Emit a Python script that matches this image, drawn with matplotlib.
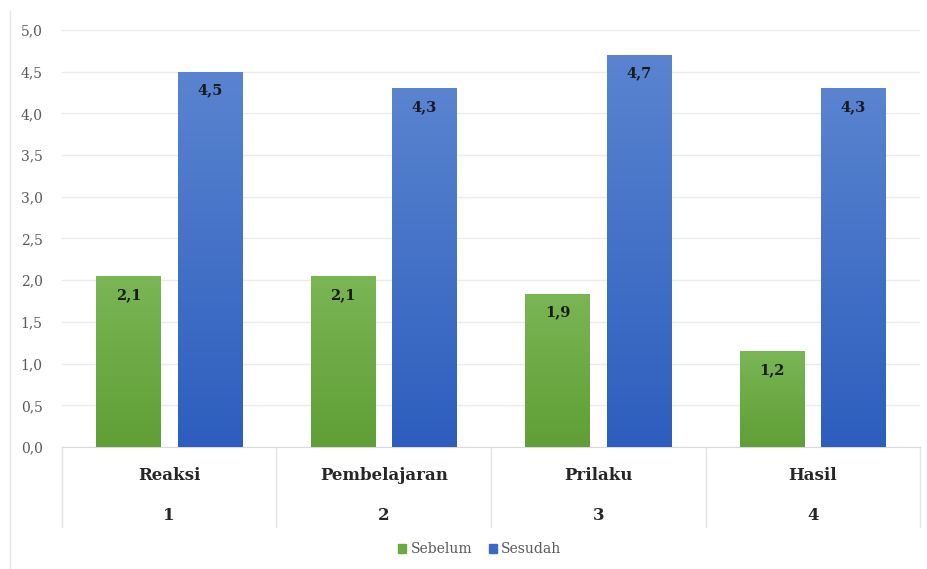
import numpy as np
import matplotlib.pyplot as plt
from matplotlib.patches import Patch
from matplotlib.lines import Line2D

# data
categories = ["Reaksi", "Pembelajaran", "Prilaku", "Hasil"]
numbers = ["1", "2", "3", "4"]
sebelum = [2.05, 2.05, 1.84, 1.15]
sesudah = [4.5, 4.3, 4.7, 4.3]
sebelum_labels = ["2,1", "2,1", "1,9", "1,2"]
sesudah_labels = ["4,5", "4,3", "4,7", "4,3"]
yticks = [0.0, 0.5, 1.0, 1.5, 2.0, 2.5, 3.0, 3.5, 4.0, 4.5, 5.0]

plt.rcParams['font.family'] = ['DejaVu Serif']

fig = plt.figure(figsize=(9.28, 5.69), dpi=100)
ax = fig.add_axes([0.0668, 0.2144, 0.9246, 0.7329])

x = np.arange(len(categories))
w = 0.30
off = 0.19

green_top, green_bot = "#7ab654", "#609e36"
blue_top, blue_bot = "#5a84d0", "#2d5ebe"


def gradient_bars(xs, vals, c_top, c_bot):
    bars = ax.bar(xs, vals, w, color=c_bot, edgecolor="none", zorder=2)
    top = np.array(plt.matplotlib.colors.to_rgb(c_top))
    bot = np.array(plt.matplotlib.colors.to_rgb(c_bot))
    grad = np.linspace(0, 1, 256)[:, None]
    img = (bot[None, None, :] * (1 - grad[..., None]) + top[None, None, :] * grad[..., None])
    for b in bars:
        x0, y0 = b.get_x(), b.get_y()
        im = ax.imshow(img, extent=[x0, x0 + b.get_width(), y0, y0 + b.get_height()],
                       origin="lower", aspect="auto", zorder=3)
        im.set_clip_path(b)
    return bars


b1 = gradient_bars(x - off, sebelum, green_top, green_bot)
b2 = gradient_bars(x + off, sesudah, blue_top, blue_bot)

for bars, labs in [(b1, sebelum_labels), (b2, sesudah_labels)]:
    for b, lab in zip(bars, labs):
        ax.text(b.get_x() + b.get_width() / 2, b.get_height() - 0.14, lab,
                ha="center", va="top", fontsize=10.5, fontweight="bold",
                color="#1a1a1a", zorder=4)

ax.set_xlim(-0.5, 3.5)
ax.set_ylim(0, 5.0)
ax.set_yticks(yticks)
ax.set_yticklabels([f"{v:.1f}".replace(".", ",") for v in yticks],
                   fontsize=10, color="#595959")
ax.tick_params(axis="y", length=0, pad=14)
ax.set_xticks([])
ax.grid(axis="y", color="#ebebeb", linewidth=1, zorder=0)
ax.set_axisbelow(True)
for s in ["top", "right", "left"]:
    ax.spines[s].set_visible(False)
ax.spines["bottom"].set_color("#d9d9d9")

# two-level category axis
trans = ax.get_xaxis_transform()
for i in range(len(categories) + 1):
    ax.plot([i - 0.5, i - 0.5], [0, -0.192], transform=trans, color="#e3e3e3",
            linewidth=1, clip_on=False)
for i, (c, n) in enumerate(zip(categories, numbers)):
    ax.text(i, -0.068, c, transform=trans, ha="center", va="center",
            fontsize=12, fontweight="bold", color="#262626")
    ax.text(i, -0.165, n, transform=trans, ha="center", va="center",
            fontsize=12, fontweight="bold", color="#262626")

# frame line on left
fig.add_artist(Line2D([0.011, 0.011], [0.0, 0.98], color="#e6e6e6", linewidth=1))

handles = [Patch(color="#6aaa3f", label="Sebelum"), Patch(color="#3a68c6", label="Sesudah")]
fig.legend(handles=handles, loc="center", bbox_to_anchor=(0.517, 0.035), ncol=2,
           frameon=False, fontsize=10, handlelength=0.6, handleheight=0.6,
           handletextpad=0.3, columnspacing=1.2, labelcolor="#595959")

fig.savefig("out.png", dpi=100)
